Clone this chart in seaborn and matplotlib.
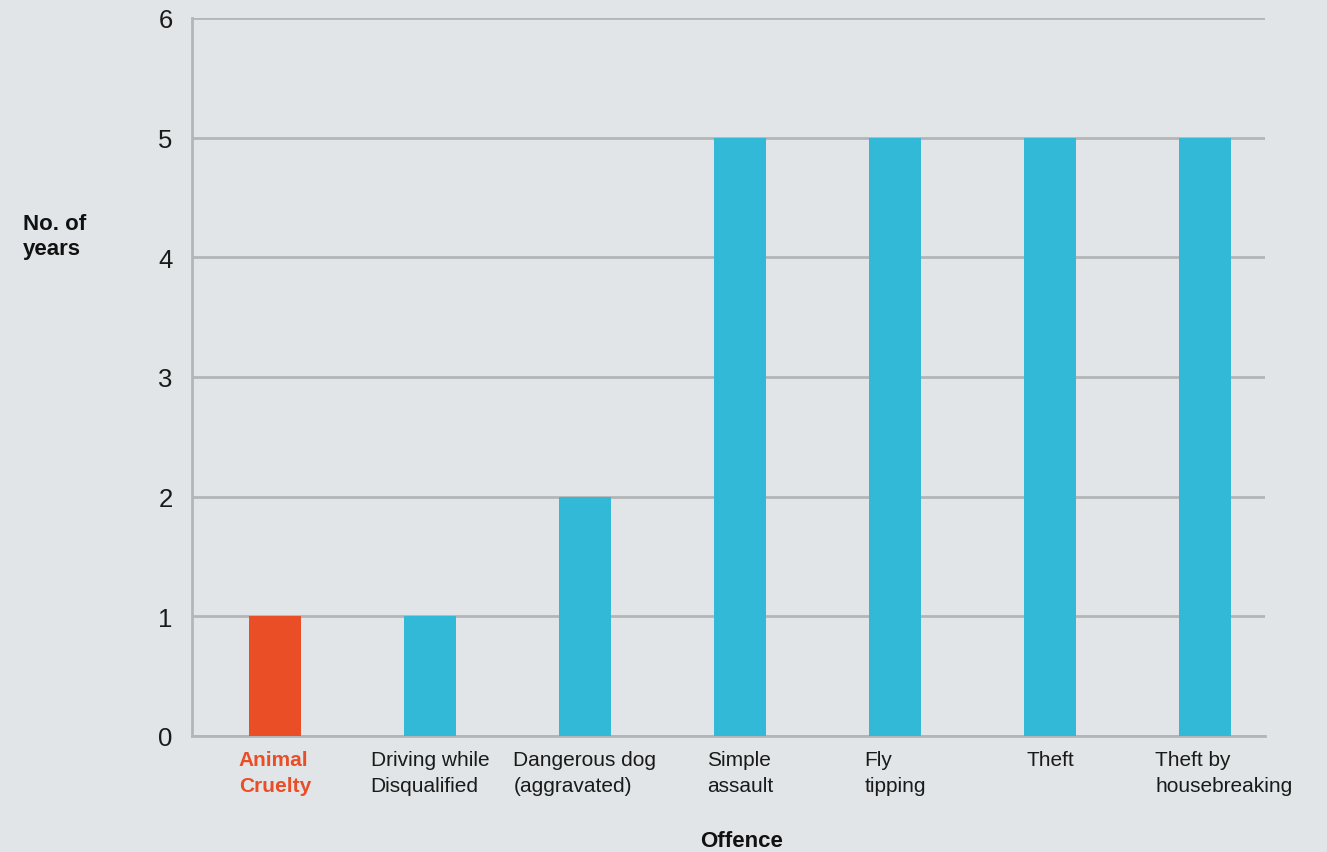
import matplotlib
matplotlib.use("Agg")
import matplotlib.pyplot as plt
import matplotlib.transforms as mtransforms
import seaborn as sns
import pandas as pd

categories = ["Animal\nCruelty", "Driving while\nDisqualified", "Dangerous dog\n(aggravated)",
              "Simple\nassault", "Fly\ntipping", "Theft", "Theft by\nhousebreaking"]
years = [1, 1, 2, 5, 5, 5, 5]
yticks = [0, 1, 2, 3, 4, 5, 6]

BG = "#e1e5e7"
CYAN = "#33b9d8"
RED = "#e94e26"
GRID = "#b3b5b7"

sns.set_theme(style="white")
plt.rcParams["font.family"] = ["Liberation Sans", "DejaVu Sans"]

df = pd.DataFrame({"offence": categories, "years": years})
palette = {c: (RED if i == 0 else CYAN) for i, c in enumerate(categories)}

fig = plt.figure(figsize=(13.27, 8.53), dpi=100, facecolor=BG)
ax = fig.add_axes([192/1327, 1-737/853, (1265-192)/1327, (737-19)/853])
ax.set_facecolor(BG)

sns.barplot(data=df, x="offence", y="years", hue="offence", palette=palette,
            legend=False, width=0.33, saturation=1, ax=ax, zorder=3, linewidth=0)

ax.set_ylim(0, 6)
ax.set_xlim(-0.535, 6.387)
ax.set_yticks(yticks)
ax.set_yticklabels([str(t) for t in yticks], fontsize=18.5, color="#1a1a1a")
ax.yaxis.grid(True, color=GRID, linewidth=2, zorder=0)
ax.set_axisbelow(True)
for s in ["top", "right"]:
    ax.spines[s].set_visible(False)
for s in ["left", "bottom"]:
    ax.spines[s].set_color(GRID)
    ax.spines[s].set_linewidth(2)
ax.tick_params(axis="both", length=0)
ax.tick_params(axis="y", pad=14)
ax.tick_params(axis="x", pad=10)

ax.set_xticks(range(len(categories)))
ax.set_xticklabels(categories, fontsize=15, color="#1a1a1a", ha="center",
                   multialignment="left", linespacing=1.45)
labels = ax.get_xticklabels()
labels[0].set_color(RED)
labels[0].set_fontweight("bold")
# last label sits a little to the right of its bar in the reference
shift = mtransforms.ScaledTranslation(19/100, 0, fig.dpi_scale_trans)
labels[-1].set_transform(labels[-1].get_transform() + shift)

ax.set_xlabel("")
ax.set_ylabel("")
fig.text(23/1327, 1-237/853, "No. of\nyears", fontsize=16, fontweight="bold",
         ha="left", va="center", color="#111111", linespacing=1.3)
fig.text(742/1327, 1-842/853, "Offence", fontsize=16, fontweight="bold",
         ha="center", va="center", color="#111111")

fig.savefig("out.png", dpi=100, facecolor=BG)
